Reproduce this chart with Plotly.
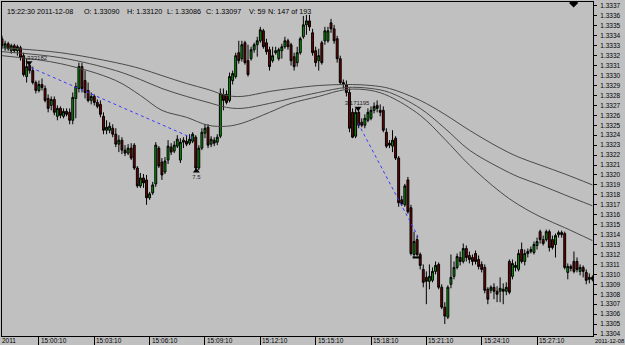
import plotly.graph_objects as go

# ---- data (10-second bars, 14:58:10 .. 15:30:10) ----
bar_index = list(range(193))

open_ = [1.33337,1.33328,1.33332,1.33325,1.33330,1.33325,1.33328,1.33320,1.33299,1.33310,
1.33305,1.33293,1.33285,1.33291,1.33287,1.33277,1.33270,1.33276,1.33259,1.33267,
1.33259,1.33264,1.33263,1.33255,1.33277,1.33287,1.33309,1.33295,1.33285,1.33275,
1.33279,1.33273,1.33271,1.33259,1.33245,1.33245,1.33247,1.33241,1.33231,1.33235,
1.33225,1.33222,1.33227,1.33230,1.33207,1.33189,1.33197,1.33195,1.33177,1.33182,
1.33191,1.33227,1.33213,1.33203,1.33215,1.33228,1.33224,1.33229,1.33215,1.33233,
1.33234,1.33232,1.33234,1.33238,1.33207,1.33227,1.33242,1.33248,1.33231,1.33235,
1.33233,1.33239,1.33281,1.33281,1.33275,1.33295,1.33299,1.33323,1.33317,1.33333,
1.33315,1.33317,1.33326,1.33331,1.33335,1.33345,1.33333,1.33326,1.33315,1.33323,
1.33317,1.33325,1.33329,1.33335,1.33331,1.33319,1.33313,1.33323,1.33339,1.33351,
1.33355,1.33343,1.33325,1.33315,1.33333,1.33335,1.33335,1.33353,1.33347,1.33337,
1.33317,1.33293,1.33291,1.33283,1.33263,1.33239,1.33263,1.33253,1.33250,1.33255,
1.33257,1.33265,1.33270,1.33265,1.33265,1.33243,1.33232,1.33229,1.33237,1.33217,
1.33175,1.33170,1.33195,1.33167,1.33120,1.33135,1.33120,1.33105,1.33097,1.33093,
1.33094,1.33103,1.33110,1.33087,1.33067,1.33057,1.33090,1.33098,1.33107,1.33117,
1.33113,1.33126,1.33119,1.33117,1.33121,1.33115,1.33110,1.33107,1.33085,1.33084,
1.33087,1.33083,1.33083,1.33085,1.33083,1.33113,1.33098,1.33109,1.33105,1.33125,
1.33113,1.33121,1.33123,1.33122,1.33129,1.33143,1.33135,1.33135,1.33143,1.33135,
1.33130,1.33140,1.33142,1.33141,1.33102,1.33108,1.33113,1.33113,1.33103,1.33107,
1.33102,1.33095,1.33097]

close = [1.33330,1.33332,1.33327,1.33330,1.33325,1.33329,1.33318,1.33301,1.33309,1.33305,
1.33293,1.33285,1.33291,1.33288,1.33275,1.33267,1.33276,1.33263,1.33267,1.33260,
1.33264,1.33261,1.33255,1.33278,1.33289,1.33309,1.33287,1.33283,1.33275,1.33279,
1.33273,1.33269,1.33261,1.33245,1.33248,1.33249,1.33241,1.33231,1.33235,1.33225,
1.33222,1.33227,1.33217,1.33207,1.33189,1.33197,1.33192,1.33177,1.33181,1.33190,
1.33230,1.33209,1.33200,1.33214,1.33229,1.33223,1.33230,1.33236,1.33233,1.33235,
1.33231,1.33236,1.33241,1.33207,1.33227,1.33243,1.33247,1.33230,1.33236,1.33232,
1.33238,1.33282,1.33275,1.33273,1.33299,1.33302,1.33320,1.33315,1.33331,1.33313,
1.33301,1.33326,1.33331,1.33335,1.33346,1.33329,1.33324,1.33309,1.33320,1.33325,
1.33326,1.33329,1.33335,1.33329,1.33315,1.33309,1.33323,1.33337,1.33351,1.33355,
1.33349,1.33323,1.33313,1.33320,1.33313,1.33345,1.33345,1.33347,1.33335,1.33317,
1.33293,1.33291,1.33283,1.33247,1.33238,1.33263,1.33250,1.33250,1.33257,1.33263,
1.33265,1.33269,1.33267,1.33263,1.33245,1.33229,1.33230,1.33235,1.33217,1.33172,
1.33171,1.33189,1.33163,1.33121,1.33133,1.33120,1.33109,1.33092,1.33093,1.33098,
1.33103,1.33109,1.33087,1.33067,1.33058,1.33087,1.33097,1.33107,1.33118,1.33113,
1.33126,1.33117,1.33115,1.33113,1.33113,1.33108,1.33105,1.33084,1.33075,1.33087,
1.33083,1.33080,1.33086,1.33083,1.33087,1.33082,1.33111,1.33107,1.33121,1.33113,
1.33121,1.33123,1.33125,1.33130,1.33133,1.33135,1.33131,1.33143,1.33127,1.33127,
1.33139,1.33142,1.33140,1.33107,1.33108,1.33106,1.33103,1.33105,1.33107,1.33103,
1.33094,1.33097,1.33095]

high = [1.33340,1.33335,1.33334,1.33332,1.33332,1.33331,1.33330,1.33323,1.33317,1.33313,
1.33309,1.33295,1.33295,1.33297,1.33290,1.33281,1.33279,1.33279,1.33270,1.33269,
1.33267,1.33267,1.33267,1.33283,1.33293,1.33313,1.33313,1.33305,1.33293,1.33283,
1.33281,1.33276,1.33275,1.33263,1.33255,1.33253,1.33251,1.33247,1.33240,1.33238,
1.33230,1.33231,1.33232,1.33232,1.33209,1.33202,1.33201,1.33200,1.33183,1.33193,
1.33233,1.33229,1.33217,1.33218,1.33235,1.33232,1.33234,1.33240,1.33237,1.33238,
1.33239,1.33241,1.33243,1.33240,1.33230,1.33247,1.33251,1.33251,1.33239,1.33238,
1.33241,1.33287,1.33287,1.33285,1.33303,1.33305,1.33323,1.33335,1.33335,1.33335,
1.33331,1.33329,1.33333,1.33339,1.33349,1.33347,1.33337,1.33329,1.33329,1.33329,
1.33328,1.33332,1.33339,1.33337,1.33333,1.33323,1.33329,1.33339,1.33360,1.33361,
1.33361,1.33347,1.33329,1.33327,1.33335,1.33349,1.33349,1.33357,1.33351,1.33340,
1.33320,1.33296,1.33295,1.33287,1.33267,1.33267,1.33267,1.33257,1.33261,1.33267,
1.33269,1.33273,1.33275,1.33271,1.33269,1.33247,1.33235,1.33245,1.33239,1.33219,
1.33179,1.33191,1.33198,1.33170,1.33143,1.33139,1.33122,1.33110,1.33103,1.33110,
1.33107,1.33113,1.33112,1.33090,1.33072,1.33089,1.33120,1.33113,1.33121,1.33123,
1.33131,1.33129,1.33123,1.33120,1.33124,1.33119,1.33113,1.33110,1.33087,1.33089,
1.33091,1.33088,1.33097,1.33091,1.33092,1.33115,1.33115,1.33113,1.33125,1.33132,
1.33125,1.33126,1.33128,1.33133,1.33137,1.33145,1.33139,1.33145,1.33145,1.33139,
1.33141,1.33144,1.33144,1.33143,1.33111,1.33110,1.33123,1.33117,1.33110,1.33109,
1.33105,1.33101,1.33099]

low = [1.33327,1.33325,1.33325,1.33322,1.33323,1.33320,1.33315,1.33299,1.33293,1.33302,
1.33291,1.33282,1.33283,1.33285,1.33273,1.33263,1.33265,1.33260,1.33255,1.33257,
1.33257,1.33259,1.33251,1.33251,1.33257,1.33283,1.33283,1.33277,1.33273,1.33271,
1.33270,1.33267,1.33258,1.33241,1.33241,1.33242,1.33238,1.33228,1.33223,1.33221,
1.33219,1.33220,1.33215,1.33205,1.33187,1.33187,1.33187,1.33170,1.33175,1.33180,
1.33188,1.33207,1.33195,1.33201,1.33211,1.33220,1.33222,1.33227,1.33212,1.33227,
1.33229,1.33230,1.33232,1.33204,1.33205,1.33225,1.33237,1.33227,1.33228,1.33229,
1.33230,1.33237,1.33265,1.33271,1.33273,1.33291,1.33297,1.33312,1.33314,1.33311,
1.33299,1.33315,1.33323,1.33319,1.33333,1.33327,1.33321,1.33305,1.33313,1.33321,
1.33315,1.33317,1.33327,1.33326,1.33310,1.33305,1.33309,1.33321,1.33337,1.33341,
1.33345,1.33320,1.33309,1.33305,1.33311,1.33331,1.33333,1.33343,1.33332,1.33313,
1.33291,1.33287,1.33279,1.33243,1.33237,1.33237,1.33247,1.33248,1.33247,1.33253,
1.33255,1.33262,1.33263,1.33259,1.33243,1.33227,1.33227,1.33223,1.33215,1.33168,
1.33169,1.33168,1.33161,1.33119,1.33117,1.33118,1.33105,1.33087,1.33070,1.33085,
1.33092,1.33100,1.33085,1.33065,1.33050,1.33055,1.33086,1.33095,1.33105,1.33109,
1.33111,1.33113,1.33111,1.33109,1.33110,1.33105,1.33102,1.33081,1.33070,1.33081,
1.33075,1.33072,1.33072,1.33070,1.33079,1.33080,1.33095,1.33103,1.33103,1.33111,
1.33109,1.33117,1.33121,1.33120,1.33125,1.33131,1.33129,1.33133,1.33123,1.33125,
1.33117,1.33137,1.33137,1.33105,1.33095,1.33103,1.33101,1.33102,1.33099,1.33097,
1.33090,1.33091,1.33093]

# moving averages read at sample bars
ma_bars = [0, 19, 37, 45, 52, 60, 67, 73, 78, 87, 94, 103, 112, 120, 126, 136, 144, 152, 162, 168, 175, 183, 192]
ma_slow = [1.33328,1.33323,1.33313,1.33307,1.33300,1.33292,1.33286,1.33280,1.33279,1.33284,1.33287,1.33290,
           1.33291,1.33290,1.33287,1.33275,1.33261,1.33245,1.33227,1.33218,1.33210,1.33201,1.33190]
ma_mid = [1.33324,1.33318,1.33305,1.33296,1.33287,1.33279,1.33273,1.33268,1.33267,1.33272,1.33277,1.33283,
          1.33288,1.33287,1.33283,1.33267,1.33247,1.33225,1.33207,1.33198,1.33190,1.33180,1.33169]
ma_fast = [1.33320,1.33312,1.33295,1.33280,1.33265,1.33258,1.33250,1.33249,1.33252,1.33263,1.33272,1.33279,
           1.33286,1.33285,1.33279,1.33260,1.33236,1.33210,1.33183,1.33170,1.33158,1.33147,1.33134]

# dotted zigzag legs
leg1_bars = [9.4, 62.0]
leg1_price = [1.33308, 1.33237]
leg2_bars = [115.8, 135.3]
leg2_price = [1.33252, 1.33138]

tick_bars = [12, 30, 48, 66, 84, 102, 120, 138, 156, 174]
tick_labels = ["15:00:10", "15:03:10", "15:06:10", "15:09:10", "15:12:10",
               "15:15:10", "15:18:10", "15:21:10", "15:24:10", "15:27:10"]

header_parts = ["15:22:30 2011-12-08", "O: 1.33090", "H: 1.33120", "L: 1.33086",
                "C: 1.33097", "V: 59", "N: 147 of 193"]
header_px = [5, 82, 125, 165, 204, 247, 266]

FONT = "Liberation Sans, Arial, sans-serif"
BG = "#c0c0c0"

fig = go.Figure()
fig.add_trace(go.Candlestick(
    x=bar_index, open=open_, high=high, low=low, close=close,
    increasing=dict(fillcolor="#00a000", line=dict(color="#000000", width=1)),
    decreasing=dict(fillcolor="#780000", line=dict(color="#000000", width=1)),
    whiskerwidth=0, showlegend=False, hoverinfo="skip"))

for ma in (ma_slow, ma_mid, ma_fast):
    fig.add_trace(go.Scatter(x=ma_bars, y=ma, mode="lines", showlegend=False, hoverinfo="skip",
                             line=dict(color="#4a4a4a", width=1, shape="spline", smoothing=1.0)))

for bx, py in ((leg1_bars, leg1_price), (leg2_bars, leg2_price)):
    fig.add_trace(go.Scatter(x=bx, y=py, mode="lines", showlegend=False, hoverinfo="skip",
                             line=dict(color="#3a3aff", width=1, dash="dot")))

# zigzag arrows and labels
fig.add_trace(go.Scatter(x=[8.8, 115.8], y=[1.33313, 1.33267], mode="markers", showlegend=False,
                         hoverinfo="skip", marker=dict(symbol="triangle-down", size=6, color="#000000")))
fig.add_trace(go.Scatter(x=[63.2], y=[1.33204], mode="markers", showlegend=False, hoverinfo="skip",
                         marker=dict(symbol="triangle-up", size=6, color="#000000")))
fig.add_trace(go.Scatter(x=[185.9], y=[1.33373], mode="markers", showlegend=False, hoverinfo="skip",
                         cliponaxis=True, marker=dict(symbol="diamond", size=7, color="#000000")))
fig.add_trace(go.Scatter(x=[134.9], y=[1.33117], mode="markers", showlegend=False, hoverinfo="skip",
                         marker=dict(symbol="line-ew-open", size=6, color="#000000",
                                     line=dict(color="#000000", width=2))))
fig.add_trace(go.Scatter(x=[10.6, 115.5, 63.2], y=[1.33317, 1.33272, 1.33197], mode="text",
                         text=["1.333182", "3.171195", "7.5"], showlegend=False, hoverinfo="skip",
                         textfont=dict(family=FONT, size=6, color="#202020")))

annotations = []
for tb, tl in zip(tick_bars, tick_labels):
    annotations.append(dict(x=tb, xref="x", y=0, yref="paper", text=tl, showarrow=False,
                            xanchor="left", yanchor="middle", xshift=0, yshift=-4.5,
                            font=dict(family=FONT, size=6.5, color="#000000")))
annotations.append(dict(x=0, xref="paper", y=0, yref="paper", text="2011", showarrow=False,
                        xanchor="left", yanchor="middle", xshift=-2, yshift=-4.5,
                        font=dict(family=FONT, size=6.5, color="#000000")))
annotations.append(dict(x=1, xref="paper", y=0, yref="paper", text="2011-12-08", showarrow=False,
                        xanchor="left", yanchor="middle", xshift=0, yshift=-4.5,
                        font=dict(family=FONT, size=5.8, color="#000000")))
for txt, px in zip(header_parts, header_px):
    annotations.append(dict(x=0, xref="paper", y=1, yref="paper", text=txt, showarrow=False,
                            xanchor="left", yanchor="middle", xshift=px - 2, yshift=-9,
                            font=dict(family=FONT, size=7.2, color="#000000")))

fig.update_layout(
    width=625, height=345,
    margin=dict(l=1, r=32, t=1, b=8),
    paper_bgcolor=BG, plot_bgcolor=BG,
    showlegend=False, boxgap=0.12,
    annotations=annotations,
    xaxis=dict(range=[-0.01, 192.2], rangeslider=dict(visible=False), showgrid=False, zeroline=False,
               showline=True, mirror=True, linecolor="#000000", linewidth=1,
               tickmode="array", tickvals=tick_bars, ticks="outside", ticklen=8,
               tickcolor="#000000", tickwidth=1, showticklabels=False, fixedrange=True),
    yaxis=dict(range=[1.33038, 1.33374], side="right", showgrid=False, zeroline=False,
               showline=True, mirror=True, linecolor="#000000", linewidth=1,
               tick0=1.3300, dtick=0.0001, tickformat=".4f", ticks="outside", ticklen=3,
               tickcolor="#000000", tickwidth=1, ticklabelstandoff=2,
               tickfont=dict(family=FONT, size=6.5, color="#000000"), fixedrange=True),
)

fig.write_html("out.html")
